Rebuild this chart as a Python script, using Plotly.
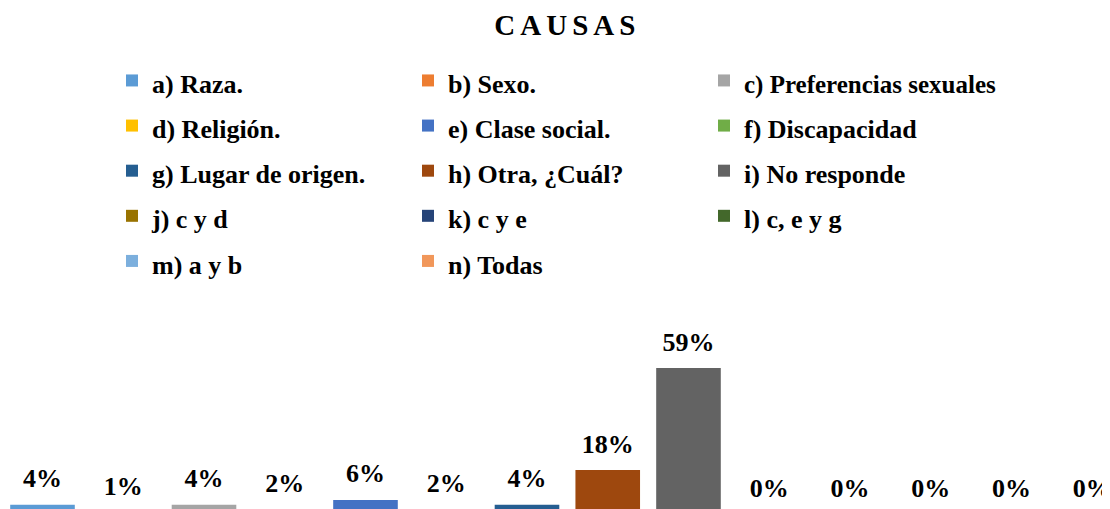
import plotly.graph_objects as go

# ---- data ----
categories = [
    "a) Raza.", "b) Sexo.", "c) Preferencias sexuales", "d) Religión.",
    "e) Clase social.", "f) Discapacidad", "g) Lugar de origen.",
    "h) Otra, ¿Cuál?", "i) No responde", "j) c y d", "k) c y e",
    "l) c, e y g", "m) a y b", "n) Todas",
]
values = [4, 1, 4, 2, 6, 2, 4, 18, 59, 0, 0, 0, 0, 0]
colors = [
    "#5B9BD5", "#ED7D31", "#A5A5A5", "#FFC000", "#4472C4", "#70AD47",
    "#255E91", "#9E480E", "#636363", "#997300", "#264478", "#43682B",
    "#7CAFDD", "#F1975A",
]
title_text = "CAUSAS"

FONT = "Liberation Serif, Times New Roman, serif"


def legend_label(txt):
    # long labels get a slightly smaller size so they fit their legend column
    size = 25 if len(txt) > 20 else 26
    return f'<span style="font-size:{size}px">{txt}</span>'


fig = go.Figure()
for cat, val, col in zip(categories, values, colors):
    fig.add_trace(go.Bar(
        x=[cat], y=[val], width=0.8,
        name=legend_label(cat),
        marker=dict(color=col, line=dict(width=0)),
        hoverinfo="skip",
    ))

# value labels
fig.add_trace(go.Scatter(
    x=categories, y=values, mode="markers+text",
    text=[f"{v}%" for v in values], textposition="top center",
    textfont=dict(family=FONT, size=26, color="#000000", weight="bold"),
    marker=dict(size=16, color="rgba(0,0,0,0)"),
    showlegend=False, hoverinfo="skip",
))

fig.update_layout(
    width=1110, height=509,
    paper_bgcolor="white", plot_bgcolor="white",
    margin=dict(l=0, r=0, t=20, b=0, autoexpand=False),
    barmode="overlay",
    title=dict(
        text='<span style="letter-spacing:5px">' + title_text + "</span>",
        x=0.5039, xref="paper", xanchor="center",
        y=0.9666, yref="container", yanchor="middle",
        font=dict(family=FONT, size=29, color="#000000", weight="bold"),
    ),
    legend=dict(
        orientation="h",
        x=104 / 1110, xanchor="left",
        y=0.9491, yanchor="top",
        entrywidth=251, entrywidthmode="pixels",
        borderwidth=0,
        font=dict(family=FONT, size=32.4, color="#000000", weight="bold"),
        bgcolor="rgba(0,0,0,0)",
        traceorder="normal",
    ),
    xaxis=dict(
        type="category", categoryorder="array", categoryarray=categories,
        range=[-0.4272, 13.319],
        showticklabels=False, showgrid=False, zeroline=False, showline=False,
        ticks="",
    ),
    yaxis=dict(
        range=[-0.88, 195.66],
        showticklabels=False, showgrid=False, zeroline=False, showline=False,
        ticks="",
    ),
    showlegend=True,
)

fig.write_html("out.html")
